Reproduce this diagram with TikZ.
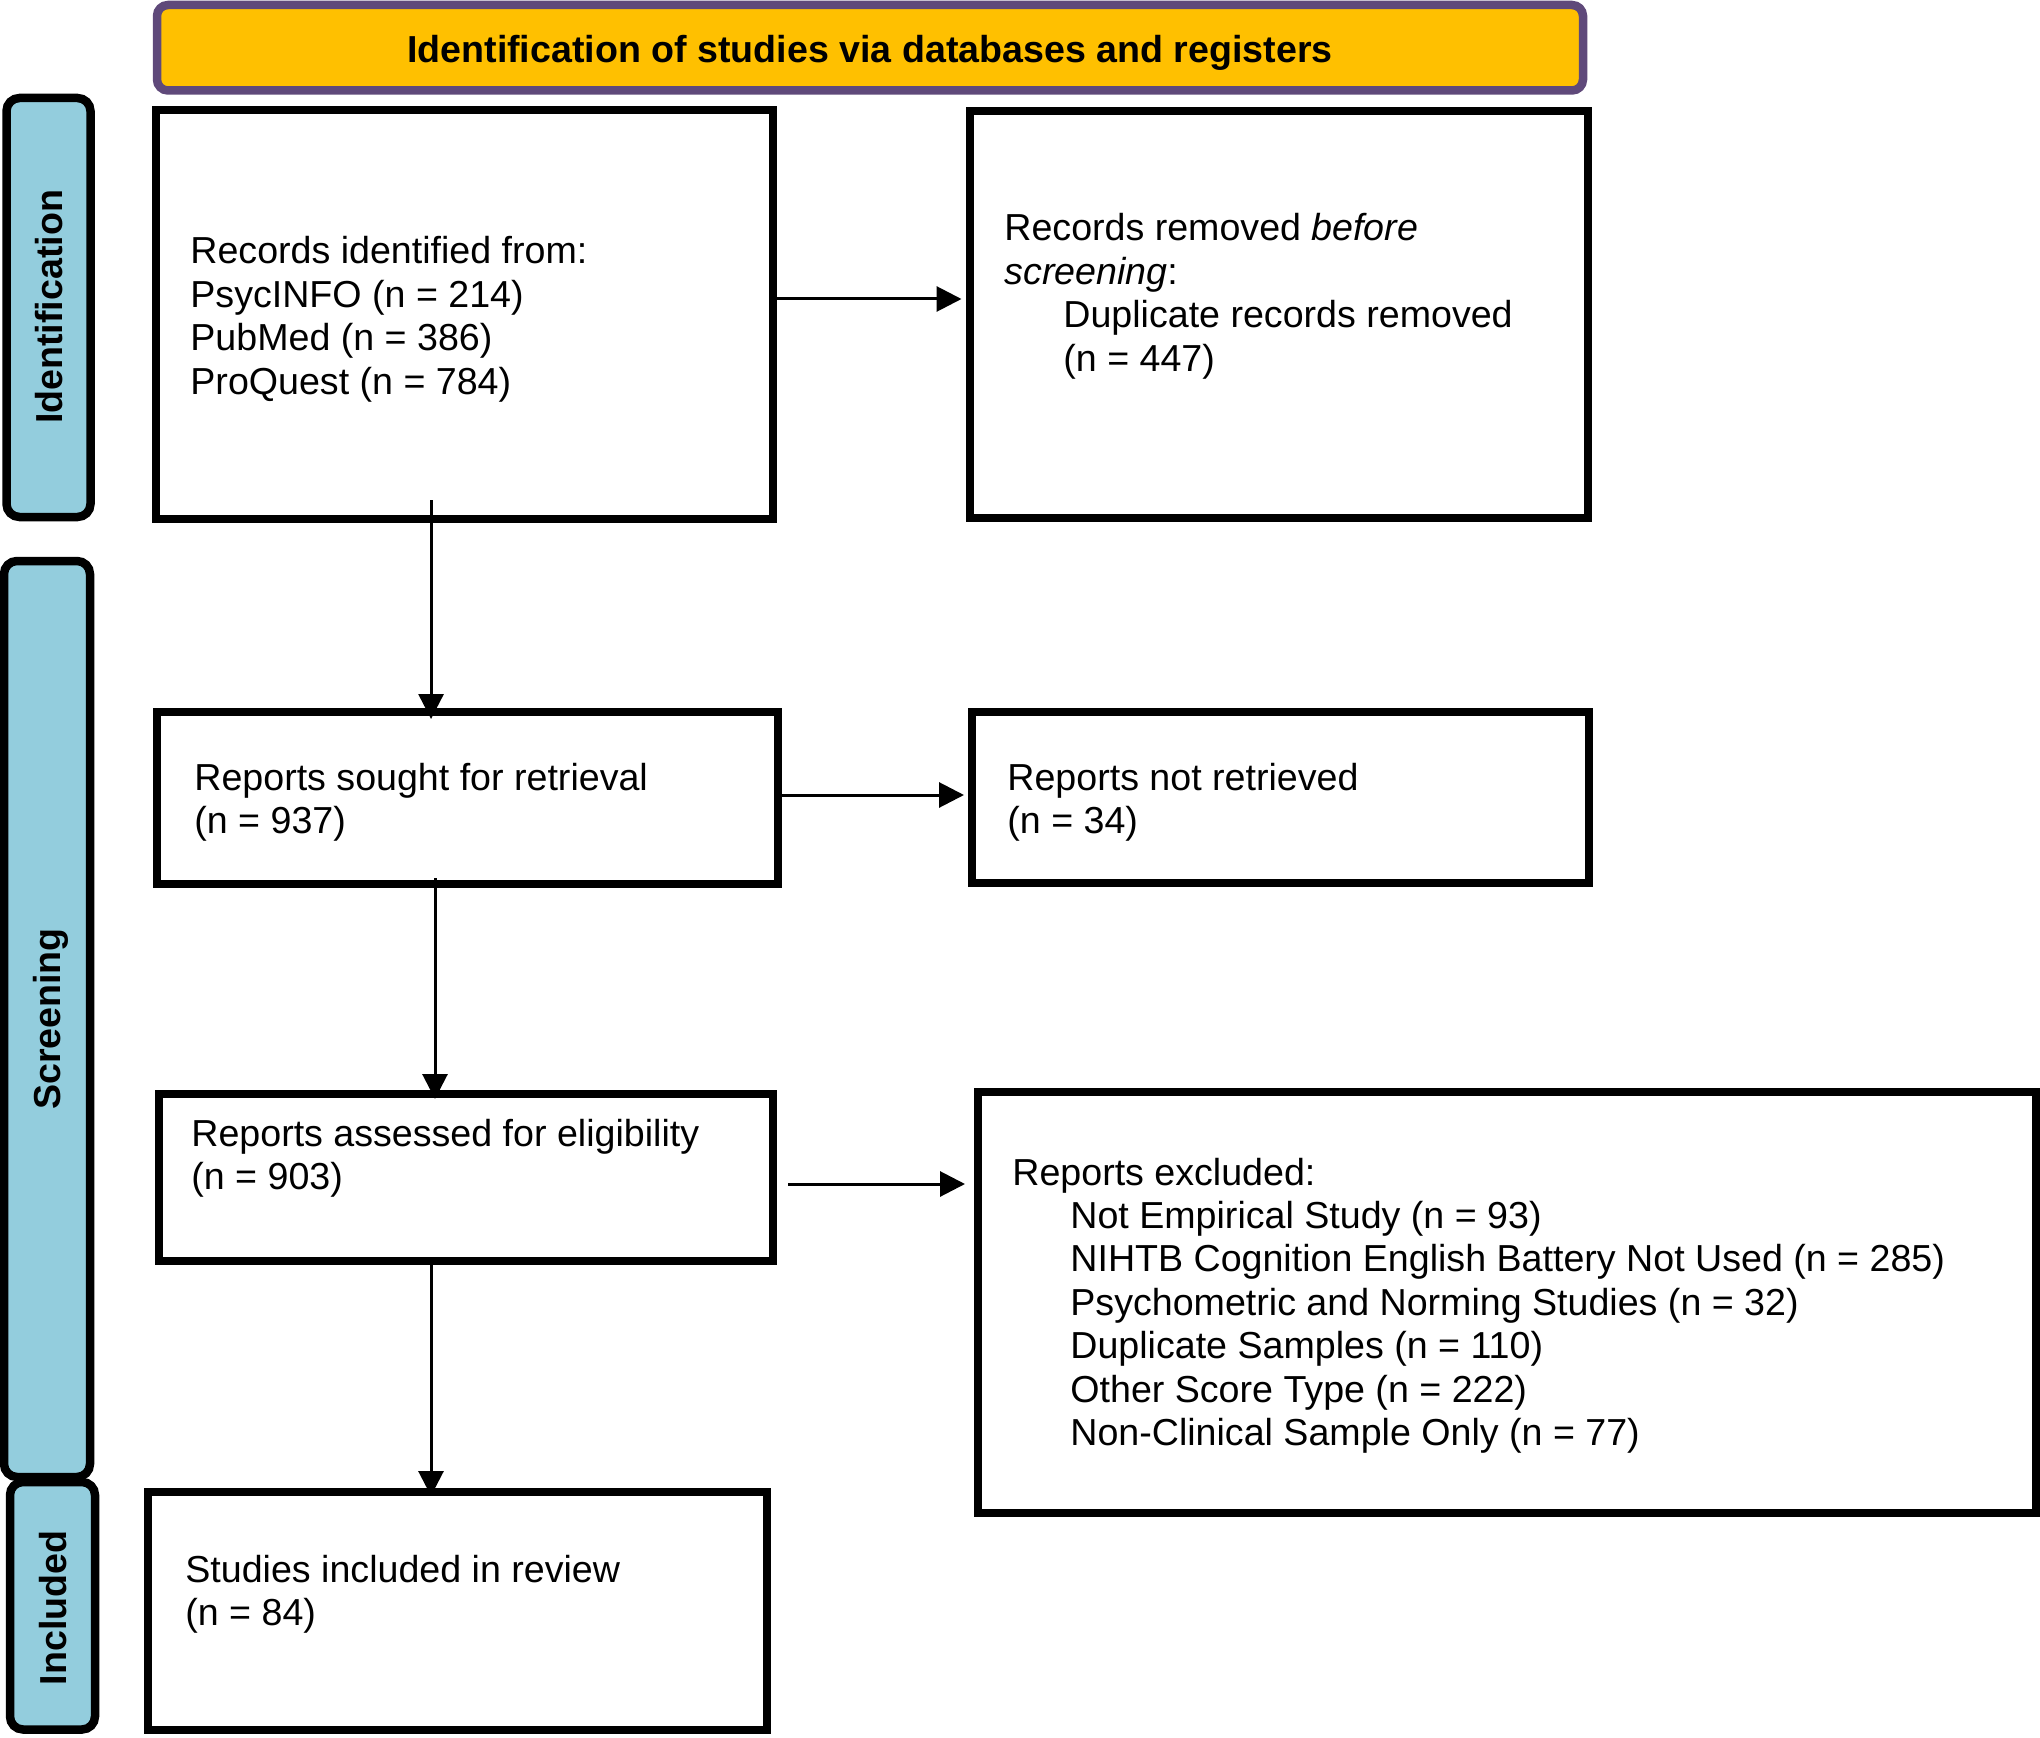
\documentclass[tikz,border=0pt]{standalone}
\usepackage{fontspec}
\setmainfont{Liberation Sans}
\usetikzlibrary{arrows.meta,fit}
\definecolor{hdrfill}{HTML}{FFC000}
\definecolor{hdrline}{HTML}{5F497A}
\definecolor{sidefill}{HTML}{93CDDD}
\newcommand\boxlines[1]{\parbox[t]{560pt}{\raggedright #1}}
\begin{document}
\begin{tikzpicture}[x=0.5pt,y=-0.5pt,
  box/.style={draw=black, line width=4pt, inner sep=0pt, fill=white},
  hdr/.style={draw=hdrline, fill=hdrfill, line width=4.25pt, rounded corners=5.5pt, inner sep=0pt},
  side/.style={draw=black, fill=sidefill, line width=4.25pt, rounded corners=6.5pt, inner sep=0pt},
  txt/.style={anchor=base west, inner sep=0pt, font=\fontsize{18.8pt}{21.7pt}\selectfont},
  lbl/.style={anchor=base, inner sep=0pt, font=\bfseries\fontsize{18.8pt}{21.7pt}\selectfont},
  arr/.style={line width=1.5pt, -{Triangle[length=12.5pt,width=12.5pt]}}
]
\useasboundingbox (0,0) rectangle (2040,1738);

% header and phase labels
\node[hdr, fit={(157,5) (1583,90.5)}] (hdr) {};
\node[lbl] (hdrtxt) at (870,62.5) {Identification of studies via databases and registers};

\node[side, fit={(6.5,98) (90.5,517)}] (L1) {};
\node[side, fit={(4,561) (90,1477)}] (L2) {};
\node[side, fit={(10,1482) (95,1729.5)}] (L3) {};
\node[lbl, rotate=90] (L1t) at (62.5,307) {Identification};
\node[lbl, rotate=90] (L2t) at (61,1019) {Screening};
\node[lbl, rotate=90] (L3t) at (66.5,1608) {Included};

% boxes
\node[box, fit={(155.5,110.5) (773,518.5)}] (B1) {};
\node[box, fit={(969.5,111) (1588,518)}] (B2) {};
\node[box, fit={(157,712) (778,884)}] (B3) {};
\node[box, fit={(972,712) (1589,883)}] (B4) {};
\node[box, fit={(159,1094) (773,1261)}] (B5) {};
\node[box, fit={(978,1092) (2035.5,1513)}] (B6) {};
\node[box, fit={(148,1492) (767,1729.5)}] (B7) {};

% texts
\node[txt] (T1) at (190,264) {\boxlines{Records identified from:\\PsycINFO (n = 214)\\PubMed (n = 386)\\ProQuest (n = 784)}};
\node[txt] (T2) at (1004,241) {\boxlines{Records removed \textit{before}\\\textit{screening}:\\\hspace*{29.5pt}Duplicate records removed\\\hspace*{29.5pt}(n = 447)}};
\node[txt] (T3) at (194,790) {\boxlines{Reports sought for retrieval\\(n = 937)}};
\node[txt] (T4) at (1007,790) {\boxlines{Reports not retrieved\\(n = 34)}};
\node[txt] (T5) at (191,1146) {\boxlines{Reports assessed for eligibility\\(n = 903)}};
\node[txt] (T6) at (1012,1185) {\boxlines{Reports excluded:\\
\hspace*{29pt}Not Empirical Study (n = 93)\\
\hspace*{29pt}NIHTB Cognition English Battery Not Used (n = 285)\\
\hspace*{29pt}Psychometric and Norming Studies (n = 32)\\
\hspace*{29pt}Duplicate Samples (n = 110)\\
\hspace*{29pt}Other Score Type (n = 222)\\
\hspace*{29pt}Non-Clinical Sample Only (n = 77)}};
\node[txt] (T7) at (185,1582) {\boxlines{Studies included in review\\(n = 84)}};

% connectors
\draw[arr] ([yshift=7.75pt]B1.east) -- ([yshift=7.75pt,xshift=-2pt]B2.west);
\draw[arr] ([yshift=1.5pt]B3.east) -- ([yshift=1.25pt,xshift=-2pt]B4.west);
\coordinate (a56) at ([xshift=5.5pt,yshift=-3.25pt]B5.east);
\draw[arr, shorten >=4.5pt] (a56) -- (a56 -| B6.west);

\coordinate (v13) at ([xshift=-16.6pt,yshift=11.25pt]B1.south);
\draw[arr, shorten >=-5.5pt] (v13) -- (v13 |- B3.north);
\coordinate (v35) at ([xshift=-16.25pt,yshift=5pt]B3.south);
\draw[arr, shorten >=-4.5pt] (v35) -- (v35 |- B5.north);
\coordinate (v57) at ([xshift=-17.5pt,yshift=3pt]B5.south);
\draw[arr, shorten >=-4pt] (v57) -- (v57 |- B7.north);
\end{tikzpicture}
\end{document}
